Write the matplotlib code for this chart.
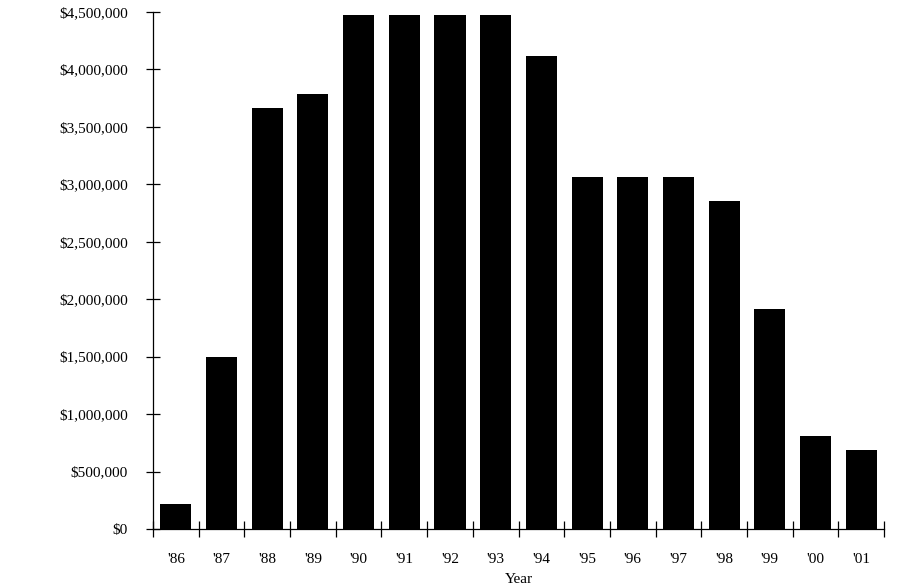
import numpy as np
import matplotlib.pyplot as plt
from matplotlib.ticker import FuncFormatter

years = ["'86", "'87", "'88", "'89", "'90", "'91", "'92", "'93",
         "'94", "'95", "'96", "'97", "'98", "'99", "'00", "'01"]
amounts = [215000, 1500000, 3665000, 3785000, 4475000, 4475000, 4478000, 4472000,
           4120000, 3064000, 3064000, 3064000, 2858000, 1913000, 811000, 687000]

plt.rcParams['font.family'] = ['Liberation Serif', 'DejaVu Serif']

fig = plt.figure(figsize=(8.97, 5.87), dpi=100)
ax = fig.add_axes([0.1706, 0.0988, 0.8149, 0.8808])

x = np.arange(len(years)) + 0.5
ax.bar(x, amounts, width=0.68, color='black')

ax.set_xlim(0, len(years))
ax.set_ylim(0, 4500000)

# ticks on the category boundaries, labels in the middle
ax.set_xticks(np.arange(len(years) + 1))
ax.set_xticklabels([])
ax.set_xticks(x, minor=True)
ax.set_xticklabels(years, minor=True, fontsize=11)
ax.tick_params(axis='x', which='major', direction='inout', length=11, width=0.9)
ax.tick_params(axis='x', which='minor', length=0, pad=17)

ax.set_yticks(np.arange(0, 4500001, 500000))
ax.yaxis.set_major_formatter(FuncFormatter(lambda v, p: f'${v:,.0f}'))
ax.tick_params(axis='y', direction='inout', length=10, width=0.9, pad=13, labelsize=11)

for s in ['top', 'right']:
    ax.spines[s].set_visible(False)
ax.spines['left'].set_linewidth(0.9)
ax.spines['bottom'].set_linewidth(0.9)

ax.set_xlabel('Year', fontsize=11, labelpad=5)

plt.savefig('out.png', dpi=100)
